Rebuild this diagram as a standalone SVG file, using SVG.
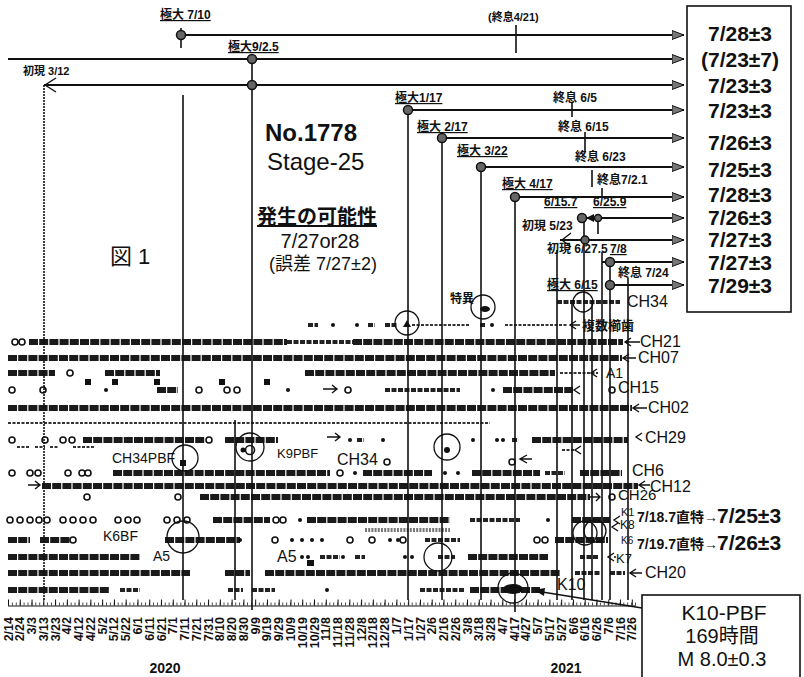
<svg xmlns="http://www.w3.org/2000/svg" width="804" height="677" viewBox="0 0 804 677">
<style>
text{font-family:"Liberation Sans","Noto Sans CJK JP",sans-serif;fill:#111}
.b{font-weight:bold}
.s11{font-size:12px;font-weight:bold}
.ax{font-size:12.5px;font-weight:bold;text-anchor:end}
.bx{font-size:21px;font-weight:bold;text-anchor:middle}
.ch{font-size:16px}
.arr{stroke:#111;stroke-width:1.8;fill:none}
.vl{stroke:#111;stroke-width:1.6;fill:none}
.d{stroke:#1a1a1a;stroke-width:6;stroke-dasharray:9 1.2;fill:none}
.m{stroke:#222;stroke-width:4;stroke-dasharray:5 1.5;fill:none}
.t{stroke:#333;stroke-width:2;stroke-dasharray:3 1.5;fill:none}
.o{fill:#fff;stroke:#111;stroke-width:1.6}
.f{fill:#111}
.c{fill:none;stroke:#111;stroke-width:1.3}
.nd{fill:#666;stroke:#111;stroke-width:1.5}
.ah{stroke:#111;stroke-width:1.4;fill:none}
</style>
<defs>
<marker id="tri" markerUnits="userSpaceOnUse" markerWidth="14" markerHeight="10" refX="12" refY="5" orient="auto">
<path d="M0,0.5 L12,5 L0,9.5 z" fill="#777" stroke="#111" stroke-width="1"/>
</marker>
</defs>

<!-- axis -->
<g id="axis">
<path d="M8 606H636" stroke="#111" stroke-width="1.2"/>
<path d="M8 604H636" stroke="#222" stroke-width="3" stroke-dasharray="0.8 3.12"/>
<path d="M8 602.5H636" stroke="#111" stroke-width="6" stroke-dasharray="1 10.77"/>
<g id="axis-labels">
<text class="ax" transform="translate(12.5,617) rotate(-90)">2/14</text>
<text class="ax" transform="translate(24.3,617) rotate(-90)">2/24</text>
<text class="ax" transform="translate(36,617) rotate(-90)">3/3</text>
<text class="ax" transform="translate(47.8,617) rotate(-90)">3/13</text>
<text class="ax" transform="translate(59.6,617) rotate(-90)">3/23</text>
<text class="ax" transform="translate(71.4,617) rotate(-90)">4/2</text>
<text class="ax" transform="translate(83.1,617) rotate(-90)">4/12</text>
<text class="ax" transform="translate(94.9,617) rotate(-90)">4/22</text>
<text class="ax" transform="translate(106.7,617) rotate(-90)">5/2</text>
<text class="ax" transform="translate(118.4,617) rotate(-90)">5/12</text>
<text class="ax" transform="translate(130.2,617) rotate(-90)">5/22</text>
<text class="ax" transform="translate(142,617) rotate(-90)">6/1</text>
<text class="ax" transform="translate(153.7,617) rotate(-90)">6/11</text>
<text class="ax" transform="translate(165.5,617) rotate(-90)">6/21</text>
<text class="ax" transform="translate(177.3,617) rotate(-90)">7/1</text>
<text class="ax" transform="translate(189,617) rotate(-90)">7/11</text>
<text class="ax" transform="translate(200.8,617) rotate(-90)">7/21</text>
<text class="ax" transform="translate(212.6,617) rotate(-90)">7/31</text>
<text class="ax" transform="translate(224.4,617) rotate(-90)">8/10</text>
<text class="ax" transform="translate(236.1,617) rotate(-90)">8/20</text>
<text class="ax" transform="translate(247.9,617) rotate(-90)">8/30</text>
<text class="ax" transform="translate(259.7,617) rotate(-90)">9/9</text>
<text class="ax" transform="translate(271.4,617) rotate(-90)">9/19</text>
<text class="ax" transform="translate(283.2,617) rotate(-90)">9/29</text>
<text class="ax" transform="translate(295,617) rotate(-90)">10/9</text>
<text class="ax" transform="translate(306.8,617) rotate(-90)">10/19</text>
<text class="ax" transform="translate(318.5,617) rotate(-90)">10/29</text>
<text class="ax" transform="translate(330.3,617) rotate(-90)">11/8</text>
<text class="ax" transform="translate(342.1,617) rotate(-90)">11/18</text>
<text class="ax" transform="translate(353.8,617) rotate(-90)">11/28</text>
<text class="ax" transform="translate(365.6,617) rotate(-90)">12/8</text>
<text class="ax" transform="translate(377.4,617) rotate(-90)">12/18</text>
<text class="ax" transform="translate(389.1,617) rotate(-90)">12/28</text>
<text class="ax" transform="translate(400.9,617) rotate(-90)">1/7</text>
<text class="ax" transform="translate(412.7,617) rotate(-90)">1/17</text>
<text class="ax" transform="translate(424.5,617) rotate(-90)">1/27</text>
<text class="ax" transform="translate(436.2,617) rotate(-90)">2/6</text>
<text class="ax" transform="translate(448,617) rotate(-90)">2/16</text>
<text class="ax" transform="translate(459.8,617) rotate(-90)">2/26</text>
<text class="ax" transform="translate(471.5,617) rotate(-90)">3/8</text>
<text class="ax" transform="translate(483.3,617) rotate(-90)">3/18</text>
<text class="ax" transform="translate(495.1,617) rotate(-90)">3/28</text>
<text class="ax" transform="translate(506.8,617) rotate(-90)">4/7</text>
<text class="ax" transform="translate(518.6,617) rotate(-90)">4/17</text>
<text class="ax" transform="translate(530.4,617) rotate(-90)">4/27</text>
<text class="ax" transform="translate(542.2,617) rotate(-90)">5/7</text>
<text class="ax" transform="translate(553.9,617) rotate(-90)">5/17</text>
<text class="ax" transform="translate(565.7,617) rotate(-90)">5/27</text>
<text class="ax" transform="translate(577.5,617) rotate(-90)">6/6</text>
<text class="ax" transform="translate(589.2,617) rotate(-90)">6/16</text>
<text class="ax" transform="translate(601,617) rotate(-90)">6/26</text>
<text class="ax" transform="translate(612.8,617) rotate(-90)">7/6</text>
<text class="ax" transform="translate(624.5,617) rotate(-90)">7/16</text>
<text class="ax" transform="translate(636.3,617) rotate(-90)">7/26</text>
</g>
<text class="b" x="165" y="673" font-size="14" text-anchor="middle">2020</text>
<text class="b" x="566" y="673" font-size="14" text-anchor="middle">2021</text>
</g>

<!-- data rows -->
<g id="rows">
<path class="d" d="M29 342H287M353 342H623M8 358H622M8 373H55M105 373H160M305 373H555M157 390H178M503 390H573M8 408H632M83 440H205M225 440H278M532 440H628M113 473H330M363 473H432M472 473H540M580 473H622M42 486H638M200 497H590M213 520H270M307 520H450M572 520H610M8 540H30M40 540H70M165 540H240M555 540H608M8 557H140M468 557H548M8 573H190M225 573H250M265 573H560M8 590H110M470 590H540"/>
<path class="m" d="M287 342H353M308 325H318M368 325H375M385 325H398M480 325H486M385 390H460M512 440H518M357 440H364M545 473H565M470 520H520M425 540H460M320 557H340M355 557H365M438 557H455M580 557H598M575 573H600M610 573H625M120 590H140M228 590H243M252 590H275M420 590H465M557 302H620"/>
<path class="t" d="M412 325H470M505 325H568M560 373H598M8 423H490M17 447H30M35 447H45M50 447H58M73 447H95M562 450H575"/>
<path d="M365 530H450" stroke="#777" stroke-width="4" stroke-dasharray="2 1.2"/>
<ellipse cx="513" cy="589" rx="10" ry="5" class="f"/>
<g class="o">
<circle cx="15" cy="342" r="3"/><circle cx="22" cy="342" r="3"/><circle cx="70" cy="373" r="3"/>
<circle cx="12" cy="390" r="3"/><circle cx="43" cy="390" r="3"/><circle cx="199" cy="390" r="3"/><circle cx="227" cy="390" r="3"/><circle cx="237" cy="390" r="3"/><circle cx="348" cy="390" r="3"/><circle cx="612" cy="390" r="3"/>
<circle cx="12" cy="440" r="3"/><circle cx="45" cy="440" r="3"/><circle cx="63" cy="440" r="3"/><circle cx="72" cy="440" r="3"/><circle cx="209" cy="440" r="3"/>
<circle cx="387" cy="462" r="3"/><circle cx="512" cy="462" r="3"/>
<circle cx="12" cy="473" r="3"/><circle cx="30" cy="473" r="3"/><circle cx="38" cy="473" r="3"/><circle cx="68" cy="473" r="3"/><circle cx="82" cy="473" r="3"/><circle cx="88" cy="473" r="3"/><circle cx="340" cy="473" r="3"/>
<circle cx="87" cy="497" r="3"/><circle cx="178" cy="497" r="3"/><circle cx="612" cy="497" r="3"/>
<circle cx="10" cy="520" r="3"/><circle cx="20" cy="520" r="3"/><circle cx="30" cy="520" r="3"/><circle cx="39" cy="520" r="3"/><circle cx="47" cy="520" r="3"/><circle cx="63" cy="520" r="3"/><circle cx="73" cy="520" r="3"/><circle cx="83" cy="520" r="3"/><circle cx="93" cy="520" r="3"/><circle cx="118" cy="520" r="3"/><circle cx="128" cy="520" r="3"/><circle cx="137" cy="520" r="3"/><circle cx="167" cy="520" r="3"/><circle cx="177" cy="520" r="3"/><circle cx="187" cy="520" r="3"/><circle cx="276" cy="520" r="3"/><circle cx="283" cy="520" r="3"/>
<circle cx="73" cy="540" r="3"/><circle cx="275" cy="540" r="3"/><circle cx="350" cy="540" r="3"/><circle cx="372" cy="540" r="3"/><circle cx="403" cy="540" r="3"/><circle cx="537" cy="540" r="3"/><circle cx="545" cy="540" r="3"/>
</g>
<g class="f">
<circle cx="106" cy="390" r="2"/><circle cx="288" cy="390" r="2"/><circle cx="493" cy="390" r="2"/>
<circle cx="333" cy="325" r="2"/><circle cx="357" cy="325" r="2"/><circle cx="492" cy="325" r="2"/>
<circle cx="350" cy="440" r="2"/><circle cx="383" cy="440" r="2"/><circle cx="473" cy="440" r="2"/><circle cx="497" cy="440" r="2"/><circle cx="503" cy="440" r="2"/>
<circle cx="355" cy="473" r="2"/><circle cx="445" cy="473" r="2"/><circle cx="458" cy="473" r="2"/>
<circle cx="300" cy="520" r="2"/><circle cx="548" cy="520" r="2"/>
<circle cx="240" cy="540" r="2"/><circle cx="292" cy="540" r="2"/><circle cx="302" cy="540" r="2"/><circle cx="312" cy="540" r="2"/><circle cx="322" cy="540" r="2"/><circle cx="390" cy="540" r="2"/><circle cx="398" cy="540" r="2"/>
<circle cx="302" cy="557" r="2"/><circle cx="308" cy="557" r="2"/><circle cx="343" cy="557" r="2"/><circle cx="405" cy="557" r="2"/><circle cx="412" cy="557" r="2"/>
<circle cx="327" cy="590" r="2"/><circle cx="243" cy="450" r="2.5"/><circle cx="447" cy="450" r="3"/>
<rect x="85" y="379" width="6" height="6"/><rect x="112" y="379" width="6" height="6"/><rect x="154" y="379" width="6" height="6"/><rect x="219" y="379" width="6" height="6"/><rect x="264" y="379" width="6" height="6"/>
<rect x="180" y="460" width="6" height="6"/><rect x="307" y="560" width="7" height="6"/>
<path d="M403 327L407 320L411 327z"/><ellipse cx="485" cy="309" rx="5" ry="3"/>
</g>
<circle class="o" cx="250" cy="450" r="4.5" stroke-width="2.5"/>
<!-- circles of interest -->
<g id="marks">
<circle class="c" cx="407" cy="323" r="12"/>
<circle class="c" cx="483" cy="307" r="12"/>
<circle class="c" cx="583" cy="302" r="10"/>
<circle class="c" cx="250" cy="447" r="14"/>
<circle class="c" cx="185" cy="458" r="13"/>
<circle class="c" cx="447" cy="447" r="13"/>
<circle class="c" cx="183" cy="537" r="16"/>
<circle class="c" cx="438" cy="557" r="14"/>
<circle class="c" cx="513" cy="588" r="15"/>
<circle class="c" cx="585" cy="533" r="12"/>
<circle class="c" cx="595" cy="531" r="11"/>
</g>
</g>

<!-- connectors -->
<g id="connectors">
<path class="vl" d="M44 85V600" stroke-dasharray="2 1"/>
<path class="vl" d="M181 28V48M183 95V600M235 420V600M408 110V600M442 138V600M481 167V600M515 197V612M557 250V600M572 103V117M572 300V600M584 218V600M585 132V152M592 170V187M592 300V600M598 218V234M602 188V196M602 252V600M610 262V600M628 278V600M516 25V53"/>
<path class="vl" d="M252 59V610" stroke-width="2.6"/>
<path class="arr" marker-end="url(#tri)" d="M181 35H684"/>
<path class="arr" marker-end="url(#tri)" d="M8 59H684"/>
<path class="arr" marker-end="url(#tri)" d="M44 85H684"/>
<path class="arr" marker-end="url(#tri)" d="M408 110H684"/>
<path class="arr" marker-end="url(#tri)" d="M442 138H684"/>
<path class="arr" marker-end="url(#tri)" d="M481 167H684"/>
<path class="arr" marker-end="url(#tri)" d="M515 197H684"/>
<path class="arr" marker-end="url(#tri)" d="M582 218H684"/>
<path class="arr" marker-end="url(#tri)" d="M560 240H684"/>
<path class="arr" marker-end="url(#tri)" d="M602 262H684"/>
<path class="arr" marker-end="url(#tri)" d="M610 285H684"/>
<path class="ah" stroke-width="1.6" d="M56 78L45 85L56 92M571 233L562 240L571 247"/>
<path class="f" d="M586 218L594 214V222z"/>
<g class="nd">
<circle cx="181" cy="35" r="4.5"/><circle cx="252" cy="59" r="4.5"/><circle cx="252" cy="85" r="4.5"/>
<circle cx="408" cy="110" r="4.5"/><circle cx="442" cy="138" r="4.5"/><circle cx="481" cy="167" r="4.5"/>
<circle cx="515" cy="197" r="4.5"/><circle cx="582" cy="218" r="4.5"/><circle cx="598" cy="218" r="3.5"/>
<circle cx="585" cy="240" r="4"/><circle cx="610" cy="262" r="4.5"/><circle cx="610" cy="285" r="4.5"/>
</g>
<!-- small row arrows -->
<path class="ah" d="M28 485H40M35 481L40 485L35 489M323 389H337M332 385L337 389L332 393M327 437H340M335 433L340 437L335 441M590 497H600M596 493L600 497L596 501"/>
<path class="ah" d="M576 321L570 325L576 329M570 325H580M631 338L625 342L631 346M625 342H640M629 354L623 358L629 362M623 358H636M597 369L591 373L597 377M580 386L574 390L580 394M639 404L633 408L639 412M633 408H647M642 433L636 437L642 441M527 455L520 459L527 463M520 459H532M645 481L639 485L645 489M639 485H650M620 516L614 520L620 524M618 523L612 527L618 531M614 553L608 557L614 561M614 557H616M636 569L630 573L636 577M630 573H642M581 446L575 450L581 454"/>
<path class="ah" d="M642 608L536 591"/>
<path class="f" d="M534 590L545 588L544 596z"/>
</g>

<!-- top annotations -->
<g id="annotations">
<text class="s11" x="160" y="19" text-decoration="underline">極大 7/10</text>
<text class="s11" x="228" y="51" text-decoration="underline">極大9/2.5</text>
<text x="23" y="75" font-size="11" class="b">初現 3/12</text>
<text x="488" y="21" font-size="11" class="b">(終息4/21)</text>
<text class="s11" x="395" y="102" text-decoration="underline">極大1/17</text>
<text class="s11" x="553" y="102">終息 6/5</text>
<text class="s11" x="417" y="131" text-decoration="underline">極大 2/17</text>
<text class="s11" x="558" y="131">終息 6/15</text>
<text class="s11" x="457" y="155" text-decoration="underline">極大 3/22</text>
<text class="s11" x="575" y="161">終息 6/23</text>
<text class="s11" x="597" y="184">終息7/2.1</text>
<text class="s11" x="502" y="188" text-decoration="underline">極大 4/17</text>
<text class="s11" x="544" y="206" text-decoration="underline">6/15.7</text>
<text class="s11" x="593" y="206" text-decoration="underline">6/25.9</text>
<text class="s11" x="522" y="230">初現 5/23</text>
<text class="s11" x="547" y="253">初現 6/27.5</text>
<text class="s11" x="610" y="253" text-decoration="underline">7/8</text>
<text class="s11" x="618" y="277">終息 7/24</text>
<text class="s11" x="547" y="289" text-decoration="underline">極大 6/15</text>
<text class="s11" x="450" y="303">特異</text>
</g>

<!-- title -->
<g id="title">
<text x="265" y="141" font-size="24" class="b">No.1778</text>
<text x="267" y="170" font-size="24">Stage-25</text>
<text x="257" y="224" font-size="20" class="b" text-decoration="underline">発生の可能性</text>
<text x="320" y="248" font-size="20" text-anchor="middle">7/27or28</text>
<text x="323" y="270" font-size="18" text-anchor="middle">(誤差 7/27±2)</text>
<text x="110" y="264" font-size="22">図 1</text>
</g>

<!-- prediction box -->
<g id="predictions">
<rect x="687" y="6" width="104" height="306" fill="#fff" stroke="#111" stroke-width="1.6"/>
<text class="bx" x="740" y="41">7/28±3</text>
<text class="bx" x="740" y="67">(7/23±7)</text>
<text class="bx" x="740" y="93">7/23±3</text>
<text class="bx" x="740" y="118">7/23±3</text>
<text class="bx" x="740" y="150">7/26±3</text>
<text class="bx" x="740" y="177">7/25±3</text>
<text class="bx" x="740" y="202">7/28±3</text>
<text class="bx" x="740" y="225">7/26±3</text>
<text class="bx" x="740" y="247">7/27±3</text>
<text class="bx" x="740" y="270">7/27±3</text>
<text class="bx" x="740" y="293">7/29±3</text>
</g>

<!-- row labels -->
<g id="row-labels">
<text class="ch" x="627" y="307">CH34</text>
<text x="582" y="330" font-size="13" class="b">複数櫛歯</text>
<text class="ch" x="640" y="347">CH21</text>
<text class="ch" x="638" y="363">CH07</text>
<text x="606" y="378" font-size="14">A1</text>
<text class="ch" x="618" y="393">CH15</text>
<text class="ch" x="648" y="413">CH02</text>
<text class="ch" x="645" y="443">CH29</text>
<text class="ch" x="632" y="476">CH6</text>
<text class="ch" x="650" y="492">CH12</text>
<text x="618" y="500" font-size="15">CH26</text>
<text x="621" y="516" font-size="11">K1</text>
<text x="637" y="522" font-size="14" class="b">7/18.7直特→</text>
<text x="717" y="523" font-size="21" class="b">7/25±3</text>
<text x="620" y="529" font-size="12">K8</text>
<text x="621" y="544" font-size="10">K6</text>
<text x="637" y="549" font-size="14" class="b">7/19.7直特→</text>
<text x="717" y="550" font-size="21" class="b">7/26±3</text>
<text x="616" y="563" font-size="13">K7</text>
<text class="ch" x="645" y="578">CH20</text>
<text class="ch" x="557" y="590">K10</text>
<text x="112" y="463" font-size="14">CH34PBF</text>
<text x="277" y="458" font-size="13">K9PBF</text>
<text class="ch" x="337" y="465">CH34</text>
<text x="103" y="541" font-size="14">K6BF</text>
<text x="153" y="561" font-size="14">A5</text>
<text x="277" y="562" font-size="16">A5</text>
</g>

<!-- K10 box -->
<g id="k10-box">
<rect x="642" y="595" width="158" height="90" fill="#fff" stroke="#111" stroke-width="1.6"/>
<text x="724" y="620" font-size="21" text-anchor="middle">K10-PBF</text>
<text x="722" y="643" font-size="20" text-anchor="middle">169時間</text>
<text x="722" y="666" font-size="20" text-anchor="middle">M 8.0±0.3</text>
</g>
</svg>
